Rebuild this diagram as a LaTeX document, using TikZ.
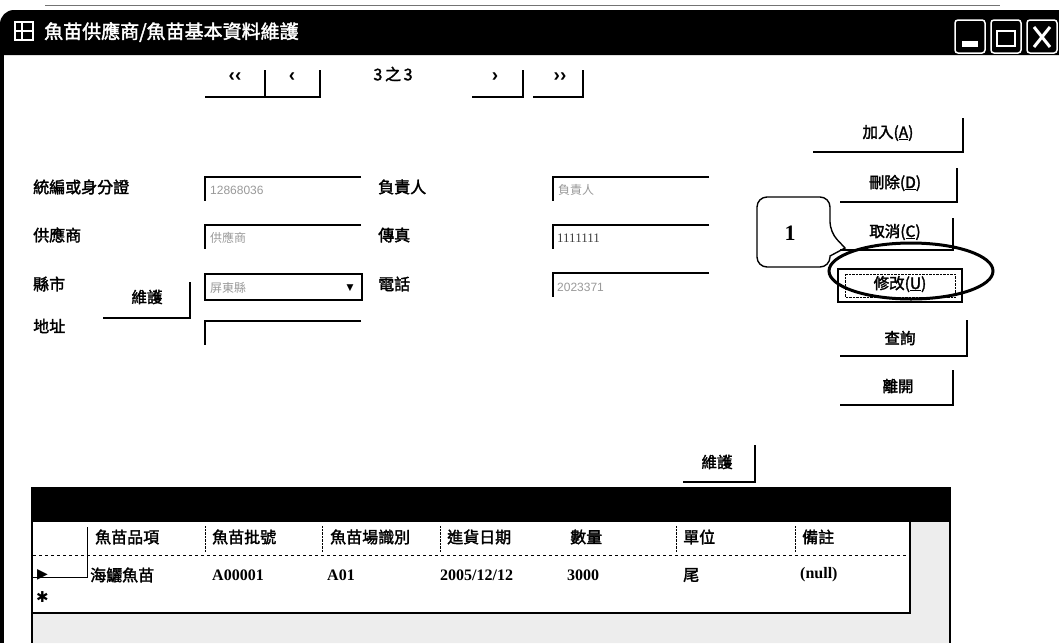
\documentclass[tikz,border=0pt]{standalone}
\usepackage{fontspec}
\setmainfont{Liberation Serif}
\newfontfamily\cjk{Noto Sans CJK TC}[AutoFakeBold=2]
\newfontfamily\uisans{Liberation Sans}
\newfontfamily\symf{DejaVu Sans}
\usetikzlibrary{positioning}

\begin{document}
\begin{tikzpicture}
  [x=1pt,y=-1pt,every node/.style={inner sep=0pt,anchor=west},
   lbl/.style={font=\cjk\bfseries\fontsize{16}{18}\selectfont},
   btn/.style={font=\cjk\bfseries\fontsize{15.5}{17}\selectfont,anchor=center},
   nav/.style={font=\uisans\bfseries\fontsize{19}{21}\selectfont,anchor=center},
   cell/.style={font=\bfseries\fontsize{16}{18}\selectfont},
   faint/.style={text=black!40,font=\cjk\fontsize{12}{14}\selectfont},
   edge3d/.style={line width=1.5pt},
   sunk/.style={line width=1.5pt}]
  \useasboundingbox (0,0) rectangle (1059,643);

  % window frame and title bar
  \draw[black!55,line width=.6pt] (45,5) -- (1000,5);
  \fill (0,55) [rounded corners=14pt] -- (0,10) [sharp corners] -- (1059,10) -- (1059,55) -- cycle;
  \fill (0,55) rectangle (4,643);
  \draw[white,line width=1.2pt] (15,22) rectangle (33,40) (15,31) -- (33,31) (22,22) -- (22,40);
  \node[text=white,font=\cjk\bfseries\fontsize{19}{21}\selectfont] (title) at (44,32) {魚苗供應商/魚苗基本資料維護};
  \foreach \bx in {955,991,1027}
    \draw[white,line width=1.5pt,rounded corners=3pt] (\bx,20) rectangle ++(30,33);
  \fill[white] (962,41) rectangle (978,47);
  \draw[white,line width=1.5pt] (997,31) rectangle (1015,46);
  \draw[white,line width=3pt] (1034,27) -- (1050,47) (1050,27) -- (1034,47);

  % record navigation
  \node[nav] (first) at (235,77) {‹‹};
  \node[nav] (prev) at (292,77) {‹};
  \node[font=\cjk\bfseries\fontsize{16}{18}\selectfont,anchor=center] (page) at (393,74) {3\,之\,3};
  \node[nav] (next) at (495,77) {›};
  \node[nav] (last) at (560,77) {››};
  \foreach \x/\w in {205/60,265/55,472/51,533/50}
    \draw[edge3d] (\x,97) -- ++(\w,0) -- ++(0,-27);

  % labels
  \node[lbl] (idlbl) at (33,187) {統編或身分證};
  \node[lbl] (suplbl) at (33,235) {供應商};
  \node[lbl] (ctylbl) at (33,284) {縣市};
  \node[lbl] (adrlbl) at (33,326) {地址};
  \node[lbl] (bosslbl) at (378,187) {負責人};
  \node[lbl] (faxlbl) at (378,235) {傳真};
  \node[lbl] (tellbl) at (378,284) {電話};

  % text fields
  \foreach \x/\y in {205/177,205/225,205/321,553/177,553/225,553/273}
    \draw[sunk] (\x+156,\y) -- (\x,\y) -- ++(0,24);
  \draw[sunk] (205,274) rectangle (362,300);
  \node[font=\symf\fontsize{9}{10}\selectfont,anchor=center] (drop) at (350,288) {▼};
  \node[faint,font=\uisans\fontsize{12}{14}\selectfont] (idval) at (210,190) {12868036};
  \node[faint] (supval) at (210,238) {供應商};
  \node[faint] (ctyval) at (210,288) {屏東縣};
  \node[faint] (bossval) at (558,190) {負責人};
  \node[text=black!75,font=\fontsize{13}{15}\selectfont] (faxval) at (557,238) {1111111};
  \node[faint,font=\uisans\fontsize{12}{14}\selectfont] (telval) at (557,287) {2023371};

  % command buttons
  \node[btn] (addbtn) at (888,133) {加入(\underline{A})};
  \node[btn] (delbtn) at (895,183) {刪除(\underline{D})};
  \node[btn] (cancelbtn) at (895,232) {取消(\underline{C})};
  \node[btn] (editbtn) at (900,284) {修改(\underline{U})};
  \node[btn] (querybtn) at (900,338) {查詢};
  \node[btn] (leavebtn) at (898,386) {離開};
  \node[btn] (citybtn) at (147,297) {維護};
  \node[btn] (gridbtn) at (717,462) {維護};
  \foreach \x/\y/\w/\h in {813/152/150/34,840/202/117/34,840/250/113/32,840/356/127/36,840/405/113/35,103/318/87/36,683/482/72/37}
    \draw[edge3d] (\x,\y) -- ++(\w,0) -- ++(0,-\h);
  \draw[line width=1.5pt] (838,269) rectangle (962,302);
  \draw[densely dotted] (845,274) rectangle (955,297);

  % callout
  \draw[line width=1.4pt,rounded corners=10pt] (757,197) -- (830,197) -- (830,232) [sharp corners] -- (845,248) -- (830,256) [rounded corners=10pt] -- (830,267) -- (757,267) -- cycle;
  \node[font=\bfseries\fontsize{22}{24}\selectfont,anchor=center] (tag) at (790,233) {1};
  \draw[line width=3pt] (911,271) ellipse [x radius=82,y radius=28];

  % data grid
  \fill (32,487) rectangle (950,522);
  \fill[black!7] (33,613) rectangle (949,643) (910,522) rectangle (949,613);
  \draw[line width=1.5pt] (32,487) -- (32,643) (950,487) -- (950,643);
  \draw[line width=1.2pt] (910,522) -- (910,613) -- (33,613);
  \draw[dashed] (33,555) -- (910,555);
  \draw (87,527) -- (87,577) -- (33,577);
  \foreach \x in {205,322,440,676,795}
    \draw[densely dotted] (\x,526) -- (\x,552);
  \foreach \x/\t [count=\i] in {95/魚苗品項,212/魚苗批號,330/魚苗場識別,447/進貨日期,570/數量,683/單位,802/備註}
    \node[lbl] (head\i) at (\x,537) {\t};
  \node[font=\symf\fontsize{14}{16}\selectfont] (cur) at (37,575) {▶};
  \node[lbl] (item) at (90,575) {海鱺魚苗};
  \node[cell] (batch) at (212,575) {A00001};
  \node[cell] (farm) at (327,575) {A01};
  \node[cell] (date) at (440,575) {2005/12/12};
  \node[cell] (qty) at (567,575) {3000};
  \node[lbl] (unit) at (683,575) {尾};
  \node[cell] (note) at (800,575) {(null)};
  \node[font=\symf\bfseries\fontsize{15}{17}\selectfont] (newrow) at (36,597) {✱};
\end{tikzpicture}
\end{document}
